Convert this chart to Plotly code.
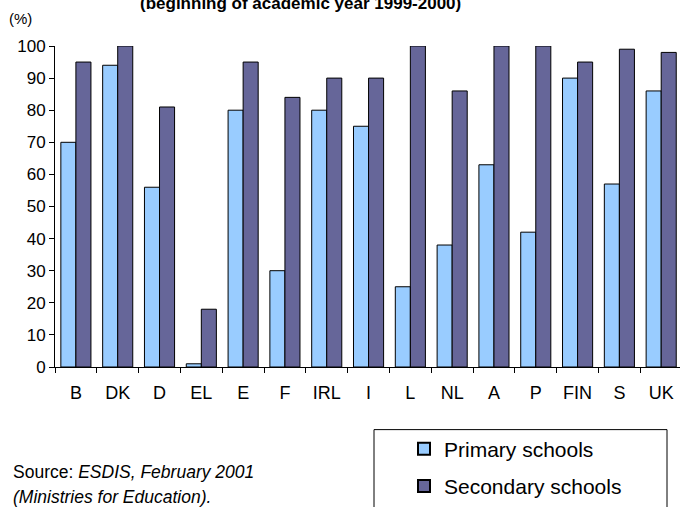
import plotly.graph_objects as go

countries = ["B", "DK", "D", "EL", "E", "F", "IRL", "I", "L", "NL", "A", "P", "FIN", "S", "UK"]
primary = [70, 94, 56, 1, 80, 30, 80, 75, 25, 38, 63, 42, 90, 57, 86]
secondary = [95, 100, 81, 18, 95, 84, 90, 90, 100, 86, 100, 100, 95, 99, 98]
series_names = ["Primary schools", "Secondary schools"]
y_ticks = list(range(0, 101, 10))

FONT = "Liberation Sans, Arial, sans-serif"

fig = go.Figure()
fig.add_trace(go.Bar(x=countries, y=primary, name=series_names[0],
                     marker=dict(color="#99CCFF", line=dict(color="black", width=1)),
                     legendgroup="a"))
fig.add_trace(go.Bar(x=countries, y=secondary, name=series_names[1],
                     marker=dict(color="#666699", line=dict(color="black", width=1)),
                     legendgroup="b"))

W, H = 680, 507
L, T, B = 55, 46, 138
pw = W - L
ph = H - T - B

def px(x):
    return (x - L) / pw

def py(y):
    return (H - B - y) / ph

fig.update_layout(
    width=W, height=H,
    margin=dict(l=L, r=0, t=T, b=B, pad=0),
    paper_bgcolor="white", plot_bgcolor="white",
    barmode="group", bargap=0.28, bargroupgap=0,
    font=dict(family=FONT, color="black", size=16),
    showlegend=True,
    legend=dict(x=px(404), y=py(431), xanchor="left", yanchor="top",
                font=dict(size=21, family=FONT), bgcolor="rgba(0,0,0,0)",
                borderwidth=0, tracegroupgap=7, itemsizing="constant"),
    xaxis=dict(type="category", range=[-0.5, 14.45], showline=True, linecolor="black",
               linewidth=1, ticks="outside", ticklen=5, tickcolor="black",
               tickson="boundaries", showgrid=False, tickfont=dict(size=18),
               ticklabelstandoff=9),
    yaxis=dict(range=[0, 100], tickvals=y_ticks, showline=True, linecolor="black",
               linewidth=1, ticks="outside", ticklen=5, tickcolor="black",
               showgrid=False, zeroline=False, tickfont=dict(size=17)),
)

fig.add_shape(type="rect", xref="paper", yref="paper",
              x0=px(374), x1=px(667), y0=py(432), y1=py(520),
              line=dict(color="black", width=1), fillcolor="rgba(0,0,0,0)")

fig.add_annotation(text="<b>(beginning of academic year 1999-2000)</b>",
                   xref="paper", yref="paper", x=px(300), y=py(15),
                   xanchor="center", yanchor="bottom", showarrow=False,
                   font=dict(size=17, family=FONT))
fig.add_annotation(text="(%)", xref="paper", yref="paper", x=px(20), y=py(18),
                   xanchor="center", yanchor="middle", showarrow=False,
                   font=dict(size=15, family=FONT))
fig.add_annotation(text="Source: <i>ESDIS, February 2001</i>",
                   xref="paper", yref="paper", x=px(11), y=py(475),
                   xanchor="left", yanchor="middle", align="left", showarrow=False,
                   font=dict(size=17.5, family=FONT))
fig.add_annotation(text="<i>(Ministries for Education).</i>",
                   xref="paper", yref="paper", x=px(11), y=py(500),
                   xanchor="left", yanchor="middle", align="left", showarrow=False,
                   font=dict(size=17.5, family=FONT))

fig.write_html("out.html", config={"displayModeBar": False},
               post_script="document.body.style.margin='0';document.body.style.overflow='hidden';")
